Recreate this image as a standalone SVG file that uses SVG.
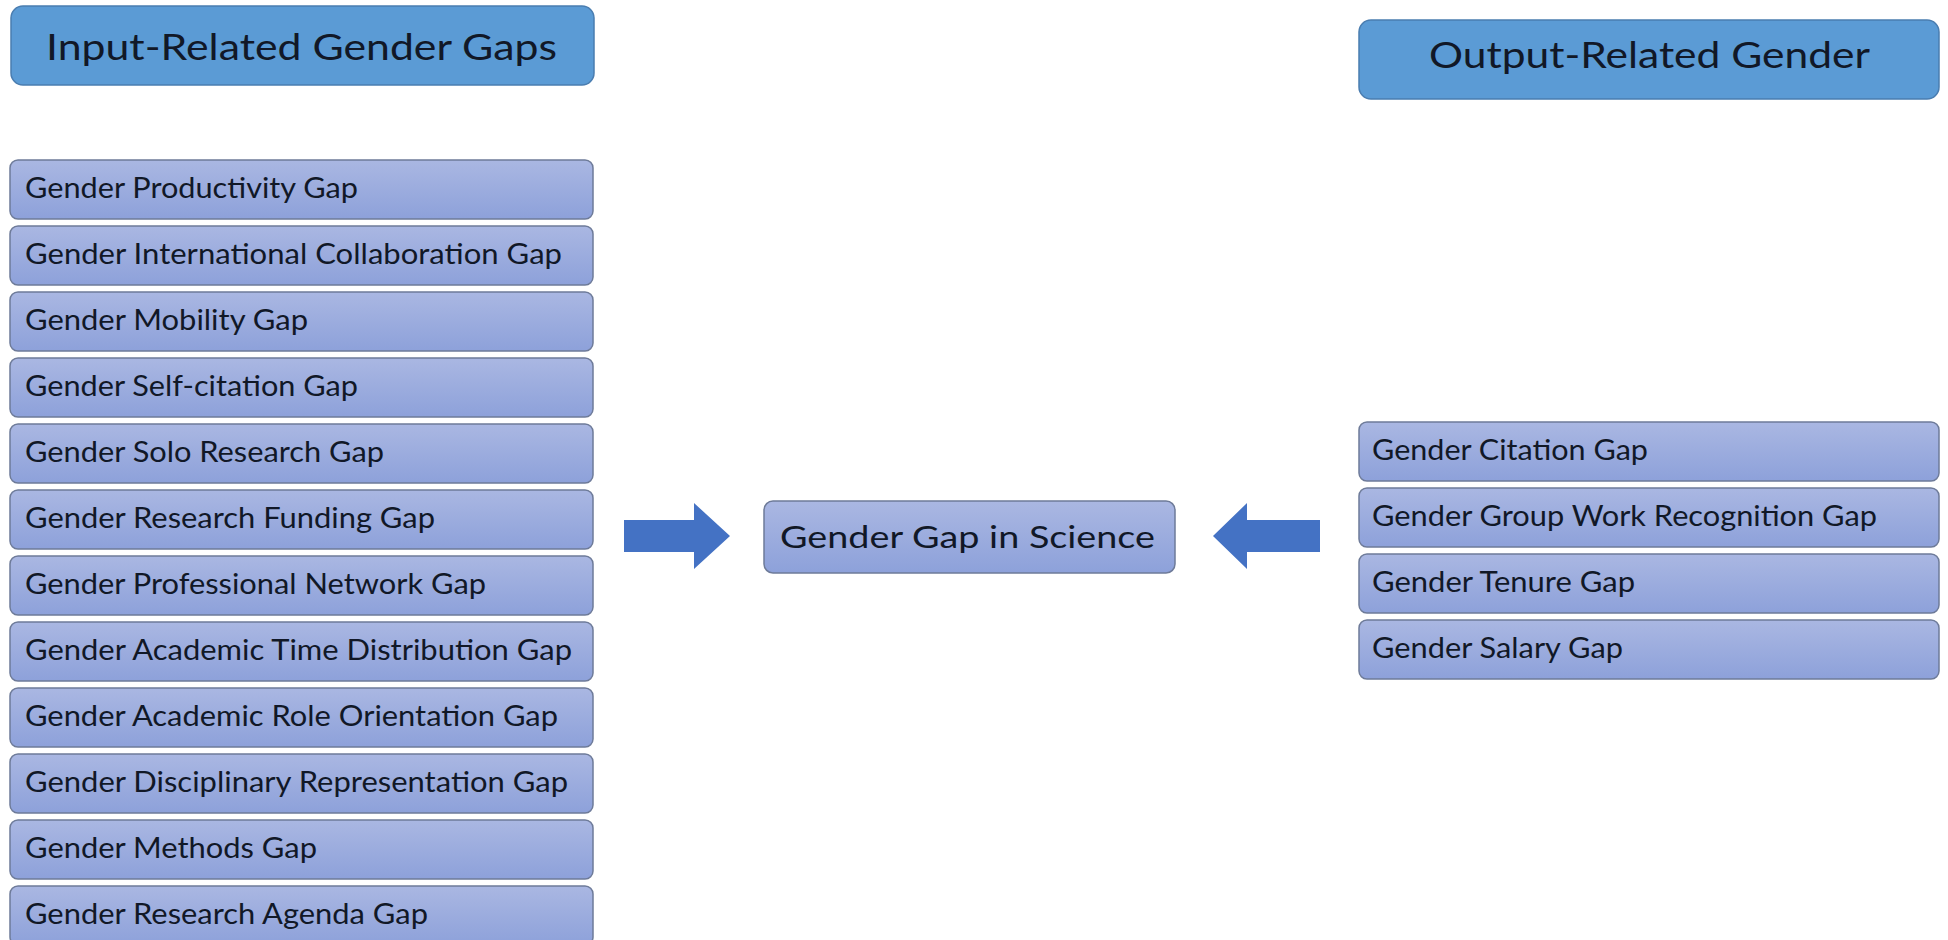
<svg xmlns="http://www.w3.org/2000/svg" width="1948" height="940" viewBox="0 0 1948 940">
<defs>
<linearGradient id="lg" x1="0" y1="0" x2="0" y2="1">
<stop offset="0" stop-color="#AAB7E2"/>
<stop offset="1" stop-color="#8DA1DA"/>
</linearGradient>
</defs>
<style>
.hdr{fill:#5B9BD5;stroke:#4A7DB0;stroke-width:1.5}
.box{fill:url(#lg);stroke:#6E7B99;stroke-width:1.5}
.t{font-family:Lato,"Liberation Sans",sans-serif;fill:#111827}
.ht{font-size:37px}
.lt{font-size:28px}
.ct{font-size:31px}
.arr{fill:#4472C4}
</style>
<rect width="1948" height="940" fill="#ffffff"/>
<g id="input-header"><rect class="hdr" x="11" y="6" width="583" height="79" rx="12"/><text class="t ht" x="46" y="60" textLength="511" lengthAdjust="spacingAndGlyphs">Input-Related Gender Gaps</text></g>
<g id="output-header"><rect class="hdr" x="1359" y="20" width="580" height="79" rx="12"/><text class="t ht" x="1429" y="68" textLength="441" lengthAdjust="spacingAndGlyphs">Output-Related Gender</text></g>
<g id="in-1"><rect class="box" x="10" y="160" width="583" height="59" rx="8"/><text class="t lt" x="25" y="198" textLength="333" lengthAdjust="spacingAndGlyphs">Gender Productivity Gap</text></g>
<g id="in-2"><rect class="box" x="10" y="226" width="583" height="59" rx="8"/><text class="t lt" x="25" y="264" textLength="537" lengthAdjust="spacingAndGlyphs">Gender International Collaboration Gap</text></g>
<g id="in-3"><rect class="box" x="10" y="292" width="583" height="59" rx="8"/><text class="t lt" x="25" y="330" textLength="283" lengthAdjust="spacingAndGlyphs">Gender Mobility Gap</text></g>
<g id="in-4"><rect class="box" x="10" y="358" width="583" height="59" rx="8"/><text class="t lt" x="25" y="396" textLength="333" lengthAdjust="spacingAndGlyphs">Gender Self-citation Gap</text></g>
<g id="in-5"><rect class="box" x="10" y="424" width="583" height="59" rx="8"/><text class="t lt" x="25" y="462" textLength="359" lengthAdjust="spacingAndGlyphs">Gender Solo Research Gap</text></g>
<g id="in-6"><rect class="box" x="10" y="490" width="583" height="59" rx="8"/><text class="t lt" x="25" y="528" textLength="410" lengthAdjust="spacingAndGlyphs">Gender Research Funding Gap</text></g>
<g id="in-7"><rect class="box" x="10" y="556" width="583" height="59" rx="8"/><text class="t lt" x="25" y="594" textLength="461" lengthAdjust="spacingAndGlyphs">Gender Professional Network Gap</text></g>
<g id="in-8"><rect class="box" x="10" y="622" width="583" height="59" rx="8"/><text class="t lt" x="25" y="660" textLength="547" lengthAdjust="spacingAndGlyphs">Gender Academic Time Distribution Gap</text></g>
<g id="in-9"><rect class="box" x="10" y="688" width="583" height="59" rx="8"/><text class="t lt" x="25" y="726" textLength="533" lengthAdjust="spacingAndGlyphs">Gender Academic Role Orientation Gap</text></g>
<g id="in-10"><rect class="box" x="10" y="754" width="583" height="59" rx="8"/><text class="t lt" x="25" y="792" textLength="543" lengthAdjust="spacingAndGlyphs">Gender Disciplinary Representation Gap</text></g>
<g id="in-11"><rect class="box" x="10" y="820" width="583" height="59" rx="8"/><text class="t lt" x="25" y="858" textLength="292" lengthAdjust="spacingAndGlyphs">Gender Methods Gap</text></g>
<g id="in-12"><rect class="box" x="10" y="886" width="583" height="59" rx="8"/><text class="t lt" x="25" y="924" textLength="403" lengthAdjust="spacingAndGlyphs">Gender Research Agenda Gap</text></g>
<g id="center"><rect class="box" x="764" y="501" width="411" height="72" rx="9"/><text class="t ct" x="780" y="548" textLength="375" lengthAdjust="spacingAndGlyphs">Gender Gap in Science</text></g>
<g id="out-1"><rect class="box" x="1359" y="422" width="580" height="59" rx="8"/><text class="t lt" x="1372" y="460" textLength="276" lengthAdjust="spacingAndGlyphs">Gender Citation Gap</text></g>
<g id="out-2"><rect class="box" x="1359" y="488" width="580" height="59" rx="8"/><text class="t lt" x="1372" y="526" textLength="505" lengthAdjust="spacingAndGlyphs">Gender Group Work Recognition Gap</text></g>
<g id="out-3"><rect class="box" x="1359" y="554" width="580" height="59" rx="8"/><text class="t lt" x="1372" y="592" textLength="263" lengthAdjust="spacingAndGlyphs">Gender Tenure Gap</text></g>
<g id="out-4"><rect class="box" x="1359" y="620" width="580" height="59" rx="8"/><text class="t lt" x="1372" y="658" textLength="251" lengthAdjust="spacingAndGlyphs">Gender Salary Gap</text></g>
<g id="connectors">
<polygon class="arr" points="624,520 694,520 694,503 730,536 694,569 694,552 624,552"/>
<polygon class="arr" points="1320,520 1247,520 1247,503 1213,536 1247,569 1247,552 1320,552"/>
</g>
</svg>
